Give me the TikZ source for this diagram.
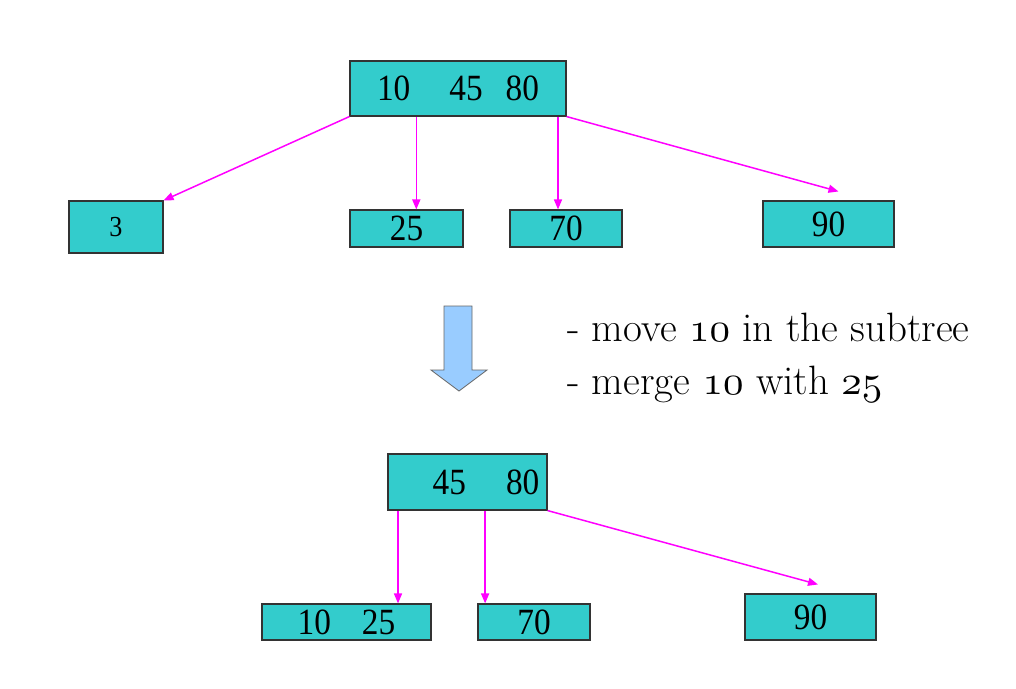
\documentclass[tikz,border=0pt]{standalone}
\usepackage{fontspec}
\usepackage{graphicx}
\newfontfamily\nodefont[FakeStretch=0.9]{Liberation Serif}
\usetikzlibrary{arrows.meta,calc}
\definecolor{boxfill}{RGB}{51,204,204}
\definecolor{arrowmag}{RGB}{255,0,255}
\definecolor{bigarrowfill}{RGB}{153,204,255}
\newcommand{\osn}[1]{\scalebox{4.1}{\fontsize{10}{12}\usefont{OML}{cmm}{m}{it}#1}}
\tikzset{
  keybox/.style={draw=black!80, line width=1.1pt, fill=boxfill, inner sep=0pt,
    font=\nodefont\fontsize{37}{40}\selectfont},
  ptr/.style={draw=arrowmag, line width=1.5pt, -{Triangle[length=10pt,width=8pt]}},
  notetext/.style={anchor=base west, inner sep=0pt, font=\fontsize{41}{44}\selectfont}
}
\begin{document}
\begin{tikzpicture}[x=1pt,y=-1pt]
\useasboundingbox (0,0) rectangle (1016,688);
% top tree
\node[keybox, minimum width=216pt, minimum height=55pt] (top) at (458,88.5)
  {\raisebox{-2pt}{10\hspace{39pt}45\hspace{23pt}80}};
\node[keybox, minimum width=94pt, minimum height=52pt, font=\nodefont\fontsize{29}{32}\selectfont] (b3) at (116,227) {3};
\node[keybox, minimum width=113pt, minimum height=37pt] (b25) at (406.5,228.5) {\raisebox{-2pt}{25}};
\node[keybox, minimum width=112pt, minimum height=37pt] (b70) at (566,228.5) {\raisebox{-2pt}{70}};
\node[keybox, minimum width=131pt, minimum height=46pt] (b90) at (828.5,224) {\raisebox{-2pt}{90}};
\draw[ptr] (top.south west) -- (b3.north east);
\draw[ptr] ($(top.south west)!0.3079!(top.south east)$) coordinate (s2) -- (s2 |- b25.north);
\draw[ptr] ($(top.south west)!0.9606!(top.south east)$) coordinate (s3) -- (s3 |- b70.north);
\coordinate (e4) at ($(b90.north)+(10,-9)$);
\draw[ptr] (top.south east) -- (e4);
% big arrow
\draw[draw=black!60, line width=0.8pt, fill=bigarrowfill]
  (444,306) -- (472,306) -- (472,370) -- (487,370) -- (459,391) -- (431,370) -- (444,370) -- cycle;
% notes
\node[notetext] (n1) at (567,341) {- move \osn{10} in the subtree};
\node[notetext] (n2) at (567,394) {- merge \osn{10} with \osn{25}};
% bottom tree
\node[keybox, minimum width=159pt, minimum height=56pt] (btop) at (467.5,482)
  {\raisebox{-2pt}{\hspace*{37pt}45\hspace{40pt}80}};
\node[keybox, minimum width=169pt, minimum height=36pt] (c1) at (346.5,622) {\raisebox{-2pt}{10\hspace{31pt}25}};
\node[keybox, minimum width=112pt, minimum height=36pt] (c2) at (534,622) {\raisebox{-2pt}{70}};
\node[keybox, minimum width=131pt, minimum height=46pt] (c3) at (810.5,617) {90};
\draw[ptr] ($(btop.south west)!0.066!(btop.south east)$) coordinate (t1) -- (t1 |- c1.north);
\draw[ptr] ($(btop.south west)!0.61!(btop.south east)$) coordinate (t2) -- (t2 |- c2.north);
\coordinate (e7) at ($(c3.north)+(7.5,-9)$);
\draw[ptr] (btop.south east) -- (e7);
\end{tikzpicture}
\end{document}
